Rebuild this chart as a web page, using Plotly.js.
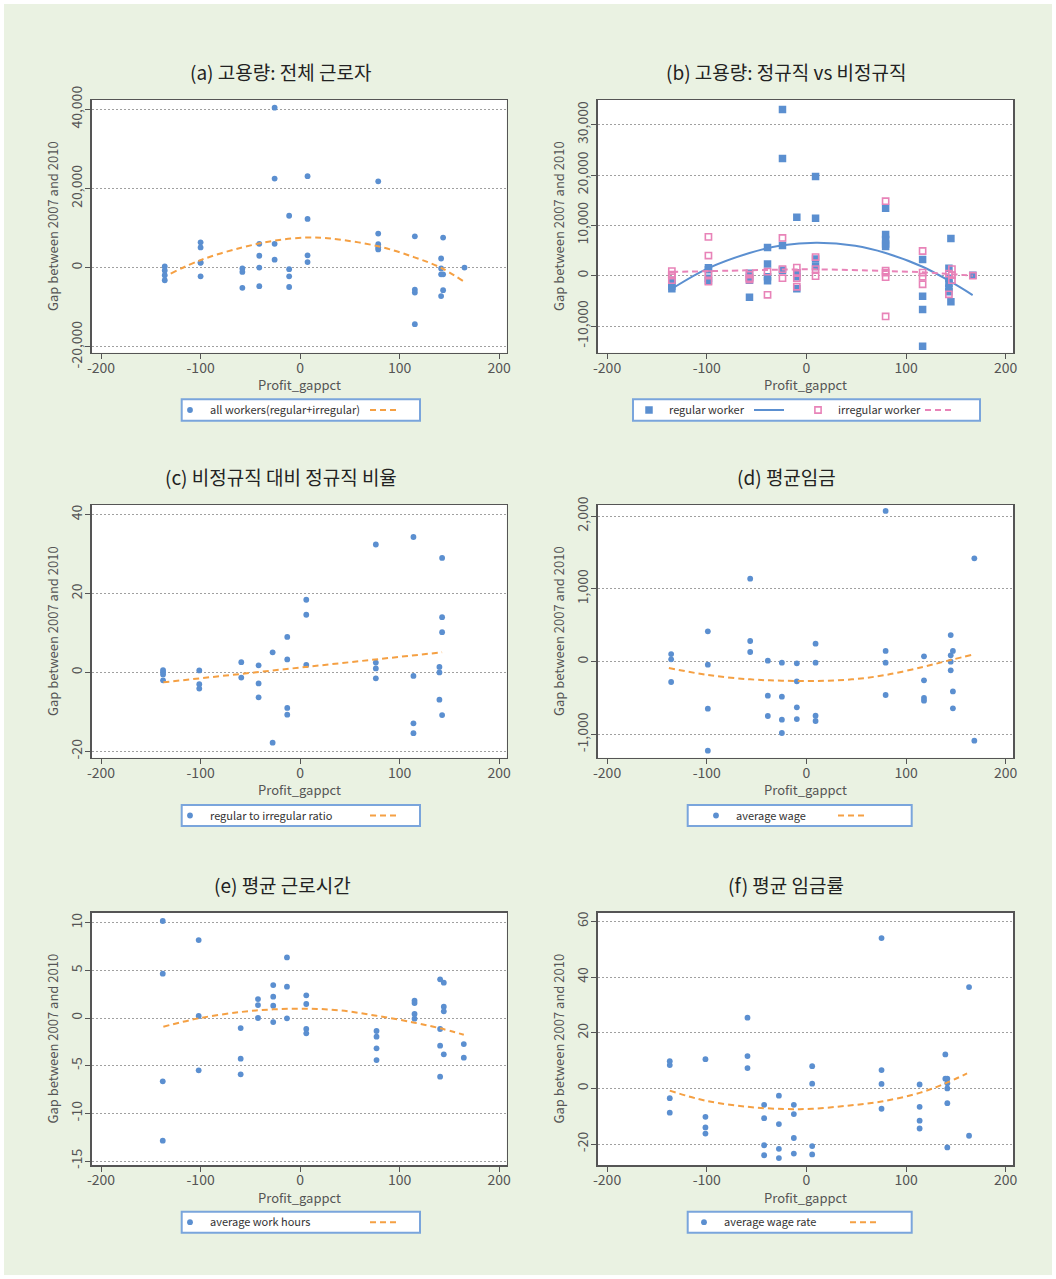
<!DOCTYPE html>
<html><head><meta charset="utf-8">
<script src="https://cdn.plot.ly/plotly-3.0.1.min.js"></script>
<style>html,body{margin:0;padding:0;background:#fff}</style>
</head><body><div id="chart" style="width:1056px;height:1279px"></div>
<script>
// ---------------- DATA ----------------
const xTicks = [-200, -100, 0, 100, 200];
const xTickText = ['-200', '-100', '0', '100', '200'];

// (a) all workers
const aX = [-136,-136,-136,-136, -100,-100,-100,-100,-100, -58,-58,-58, -41,-41,-41,-41, -25.6,-25.6,-25.6,-25.6, -11,-11,-11,-11, 7.5,7.5,7.5,7.5, 78.5,78.5,78.5,78.5,78.5, 115.3,115.3,115.3,115.3, 141.7,141.7,141.7,141.7, 143.7,143.7,143.7, 165.2];
const aY = [300,-700,-1900,-3200, 6400,5100,1300,1200,-2200, -200,-1100,-5100, 6000,3000,0,-4700, 40400,22500,6000,2000, 13100,-400,-2200,-4900, 23100,12300,3100,1400, 21800,8600,5900,5100,4600, 7900,-5600,-6300,-14300, 2300,-200,-1700,-7200, 7600,-1700,-5700, 0];
const aFitX = [-130, -100, -58, -25.6, 7.5, 32, 78.5, 115, 142, 165];
const aFitY = [-1500, 1900, 5100, 6800, 7600, 7300, 5400, 2600, -100, -3600];
const aTicks = [-20000, 0, 20000, 40000];
const aTickText = ['-20,000', '0', '20,000', '40,000'];

// (b) regular vs irregular
const bRegX = [-135,-135,-135,-135, -98.3,-98.3,-98.3,-98.3, -57.1,-57.1,-57.1,-57.1, -39,-39,-39,-39, -24,-24,-24,-24, -9.6,-9.6,-9.6,-9.6, 9.2,9.2,9.2,9.2, 79.5,79.5,79.5,79.5,79.5, 116.6,116.6,116.6,116.6, 143,143,143,143,143, 145,145, 167];
const bRegY = [-900,-1500,-2100,-2600, 1600,1200,-500,-1000, 500,-300,-900,-4300, 5600,2300,-200,-1000, 33000,23300,6000,1100, 11600,600,-200,-2600, 19700,11400,3300,1800, 13400,8200,7200,6300,5800, 3200,-4100,-6700,-14000, 1500,-500,-1500,-2500,-3200, 7400,-5200, 100];
const bIrrX = [-135,-135,-135,-135, -98.3,-98.3,-98.3,-98.3, -57.1,-57.1,-57.1, -39,-39, -24,-24,-24, -9.6,-9.6,-9.6,-9.6, 9.2,9.2,9.2, 79.5,79.5,79.5,79.5,79.5, 116.6,116.6,116.6,116.6, 143,143, 146,146,146, 167];
const bIrrY = [900,200,0,-900, 7700,4000,300,-1200, 200,-500,-800, 800,-3800, 7500,1300,-500, 1600,500,-500,-2200, 3700,1300,-100, 14800,1000,600,-300,-8100, 4900,600,-200,-1700, 400,-3700, 1300,100,-900, 0];
const bRegFitX = [-133.4, -98.3, -57.1, -24, 11, 49, 79.5, 116.6, 143, 166.8];
const bRegFitY = [-2400, 1500, 4500, 6050, 6550, 5930, 4500, 1780, -1000, -3850];
const bIrrFitX = [-135, -61, 5.5, 79, 117, 143, 167];
const bIrrFitY = [730, 1060, 1260, 930, 660, 330, 0];
const bTicks = [-10000, 0, 10000, 20000, 30000];
const bTickText = ['-10,000', '0', '10,000', '20,000', '30,000'];

// (c) regular to irregular ratio
const cX = [-137.7,-137.7,-137.7,-137.7, -101.3,-101.3,-101.3, -59.1,-59.1, -41.7,-41.7,-41.7, -27.6,-27.6, -12.9,-12.9,-12.9,-12.9, 6.2,6.2,6.2, 76.1,76.1,76.1,76.1, 113.9,113.9,113.9,113.9, 140,140,140, 142.7,142.7,142.7,142.7];
const cY = [0.6,0.1,-0.5,-2.0, 0.5,-3.0,-4.1, 2.6,-1.3, 1.8,-2.8,-6.3, 5.1,-17.8, 9.0,3.3,-9.0,-10.7, 18.4,14.6,1.9, 32.4,2.5,1.0,-1.5, 34.3,-0.9,-12.9,-15.4, 1.4,0,-6.9, 29.0,14.0,10.2,-10.8];
const cFitX = [-137.4, 142.7];
const cFitY = [-2.5, 5.1];
const cTicks = [-20, 0, 20, 40];
const cTickText = ['-20', '0', '20', '40'];

// (d) average wage
const dX = [-135.7,-135.7,-135.7, -98.9,-98.9,-98.9,-98.9, -56.4,-56.4,-56.4, -38.7,-38.7,-38.7, -24.6,-24.6,-24.6,-24.6, -9.6,-9.6,-9.6,-9.6, 9.2,9.2,9.2,9.2, 79.5,79.5,79.5,79.5, 118,118,118,118, 144.8,144.8,144.8,144.8, 147,147,147, 168.5,168.5];
const dY = [105,32,-279, 417,-41,-646,-1223, 1140,284,133, 14,-467,-746, -14,-481,-797,-980, -23,-270,-627,-788, 247,-14,-742,-815, 2070,147,-14,-458, 73,-256,-499,-536, 366,87,0,-119, 147,-408,-641, 1420,-1085];
const dFitX = [-138, -98.9, -56.4, -24.6, 9.2, 45.6, 79.5, 118, 144.8, 167];
const dFitY = [-87, -183, -243, -261, -266, -243, -183, -69, 23, 96];
const dTicks = [-1000, 0, 1000, 2000];
const dTickText = ['-1,000', '0', '1,000', '2,000'];

// (e) average work hours
const eX = [-138,-138,-138,-138, -101.9,-101.9,-101.9, -59.7,-59.7,-59.7, -42.3,-42.3,-42.3, -27,-27,-27,-27, -13.2,-13.2,-13.2, 6.2,6.2,6.2,6.2, 76.8,76.8,76.8,76.8, 115,115,115,115, 140.7,140.7,140.7,140.7, 144.4,144.4,144.4,144.4, 164.5,164.5];
const eY = [10.18,4.65,-6.64,-12.87, 8.18,0.21,-5.49, -1.05,-4.27,-5.91, 1.99,1.36,0, 3.46,2.24,1.29,-0.42, 6.36,3.29,-0.03, 2.38,1.47,-1.15,-1.61, -1.36,-1.96,-3.18,-4.41, 1.82,1.57,0.42,-0.07, 4.06,-1.15,-2.90,-6.15, 3.71,1.19,0.70,-3.81, -2.73,-4.16];
const eFitX = [-137.4, -101.9, -59.7, -27, 6.5, 40, 76.8, 115, 140.7, 164.5];
const eFitY = [-0.91, -0.03, 0.63, 0.91, 0.98, 0.80, 0.24, -0.49, -1.08, -1.75];
const eTicks = [-15, -10, -5, 0, 5, 10];
const eTickText = ['-15', '-10', '-5', '0', '5', '10'];

// (f) average wage rate
const fX = [-137.1,-137.1,-137.1,-137.1, -101.3,-101.3,-101.3,-101.3, -59.1,-59.1,-59.1, -42.4,-42.4,-42.4,-42.4, -27.6,-27.6,-27.6,-27.6, -12.6,-12.6,-12.6,-12.6, 5.8,5.8,5.8,5.8, 75.4,75.4,75.4,75.4, 113.6,113.6,113.6,113.6, 139.4,139.4, 141.4,141.4,141.4,141.4,141.4, 163.2,163.2];
const fY = [9.8,8.4,-3.5,-8.7, 10.5,-10.2,-14.0,-16.2, 25.4,11.6,7.3, -5.9,-10.7,-20.4,-24.0, -2.6,-12.8,-21.7,-25.0, -5.9,-9.2,-17.8,-23.4, 8.0,1.7,-20.7,-23.7, 54.0,6.6,1.6,-7.3, 1.4,-6.6,-11.6,-14.4, 12.2,3.5, 3.5,1.9,0,-5.3,-21.2, 36.4,-17.0];
const fFitX = [-137.1, -101.3, -59.1, -21.6, 5.8, 38.9, 75.4, 113.6, 139.4, 161.2];
const fFitY = [-0.8, -4.4, -6.6, -7.4, -7.3, -6.3, -4.7, -1.6, 1.8, 5.4];
const fTicks = [-20, 0, 20, 40, 60];
const fTickText = ['-20', '0', '20', '40', '60'];

const titles = ['(a) 고용량: 전체 근로자', '(b) 고용량: 정규직 vs 비정규직', '(c) 비정규직 대비 정규직 비율', '(d) 평균임금', '(e) 평균 근로시간', '(f) 평균 임금률'];
const seriesNames = ['all workers(regular+irregular)', 'regular worker', 'irregular worker', 'regular to irregular ratio', 'average wage', 'average work hours', 'average wage rate'];
const xTitle = 'Profit_gappct';
const yTitle = 'Gap between 2007 and 2010';

// ---------------- STYLE ----------------
const W = 1056, H = 1279;
const FONT = '"Noto Sans CJK KR", "Noto Sans", sans-serif';
const BLUE = '#5b8fd0', ORANGE = '#f5a043', PINK = '#e883b8';
const px = v => v / W, py = v => 1 - v / H;

const colL = [91.7, 506.7], colR = [597.7, 1013.3];
const rows = [[100, 352.7], [505, 757.7], [912.7, 1165]];
const yRanges = [[-21500, 42350], [-15300, 34900], [-21.6, 42.4], [-1319, 2152], [-15.42, 11.05], [-27.5, 63.1]];
const yTickSets = [[aTicks, aTickText], [bTicks, bTickText], [cTicks, cTickText], [dTicks, dTickText], [eTicks, eTickText], [fTicks, fTickText]];

const layout = {
  width: W, height: H,
  margin: {l: 0, r: 0, t: 0, b: 0},
  paper_bgcolor: '#eaf2e2',
  plot_bgcolor: '#ffffff',
  showlegend: true,
  font: {family: FONT, color: '#555'},
  annotations: [],
  shapes: [{type: 'rect', xref: 'paper', yref: 'paper', x0: 0, x1: 1, y0: 0, y1: 1,
            line: {color: '#ffffff', width: 8}, fillcolor: 'rgba(0,0,0,0)', layer: 'below'}]
};

// legend boxes: [left, right, top, bottom]; legend start (first marker - 20)
const legendBoxes = [[181.7, 420, 399.3, 420.7], [633, 980, 399.3, 420.7], [181.7, 420, 805, 826], [687.7, 911.7, 805, 826], [181.7, 420, 1211.7, 1232.7], [687.7, 911.7, 1211.7, 1232.7]];
const legendStart = [170, 629, 170, 696, 170, 684];
const titleX = [280, 786, 281, 786, 282, 786];
const titleY = [72, 72, 477, 477, 884, 884];

for (let i = 0; i < 6; i++) {
  const n = i === 0 ? '' : String(i + 1);
  const col = i % 2 === 0 ? colL : colR;
  const row = rows[Math.floor(i / 2)];
  layout['xaxis' + n] = {
    domain: [px(col[0]), px(col[1])], range: [-209.4, 207.6], anchor: 'y' + n,
    tickvals: xTicks, ticktext: xTickText, ticks: 'outside', ticklen: 5, tickcolor: '#555', tickwidth: 1,
    ticklabelstandoff: -3,
    showline: true, mirror: true, linecolor: '#555', linewidth: 1.5,
    showgrid: false, zeroline: false, tickfont: {size: 14, color: '#555', family: FONT}
  };
  layout['yaxis' + n] = {
    domain: [py(row[1]), py(row[0])], range: yRanges[i], anchor: 'x' + n,
    tickvals: yTickSets[i][0], ticktext: yTickSets[i][1], tickangle: -90,
    ticks: 'outside', ticklen: 5, tickcolor: '#555', tickwidth: 1, ticklabelstandoff: -2,
    showline: true, mirror: true, linecolor: '#555', linewidth: 1.5,
    showgrid: true, gridcolor: '#a0a0a0', gridwidth: 1, griddash: '2px,2px',
    zeroline: false, tickfont: {size: 14, color: '#555', family: FONT}
  };
  layout.annotations.push({text: titles[i], xref: 'paper', yref: 'paper', x: px(titleX[i]), y: py(titleY[i]),
    xanchor: 'center', yanchor: 'middle', showarrow: false, font: {size: 19, color: '#222', family: FONT}});
  layout.annotations.push({text: xTitle, xref: 'paper', yref: 'paper', x: px((col[0] + col[1]) / 2), y: py(row[1] + 32),
    xanchor: 'center', yanchor: 'middle', showarrow: false, font: {size: 13, color: '#555', family: FONT}});
  layout.annotations.push({text: yTitle, xref: 'paper', yref: 'paper', x: px(col[0] - 39), y: py((row[0] + row[1]) / 2),
    xanchor: 'center', yanchor: 'middle', textangle: -90, showarrow: false, font: {size: 13, color: '#555', family: FONT}});
  const lb = legendBoxes[i];
  layout.shapes.push({type: 'rect', xref: 'paper', yref: 'paper', x0: px(lb[0]), x1: px(lb[1]), y0: py(lb[3]), y1: py(lb[2]),
    line: {color: '#7aa5dc', width: 2}, fillcolor: '#ffffff', layer: 'below'});
  layout[i === 0 ? 'legend' : 'legend' + (i + 1)] = {
    orientation: 'h', x: px(legendStart[i]), xanchor: 'left', y: py((lb[2] + lb[3]) / 2), yanchor: 'middle',
    bgcolor: 'rgba(0,0,0,0)', borderwidth: 0,
    font: {size: 11, color: '#333', family: FONT}, traceorder: 'normal', itemwidth: 30
  };
}

function lg(i) { return i === 0 ? 'legend' : 'legend' + (i + 1); }
function dots(x, y, i, name, lw) {
  const n = i === 0 ? '' : String(i + 1);
  return {type: 'scatter', mode: 'markers', x: x, y: y, name: name, xaxis: 'x' + n, yaxis: 'y' + n,
    legend: lg(i), legendwidth: lw, marker: {color: BLUE, size: 5.8, line: {width: 0}}};
}
function fit(x, y, i, color, dash, lw) {
  const n = i === 0 ? '' : String(i + 1);
  return {type: 'scatter', mode: 'lines', x: x, y: y, name: '\u00a0', xaxis: 'x' + n, yaxis: 'y' + n,
    legend: lg(i), legendwidth: lw || 1,
    line: {color: color, width: 2, dash: dash, shape: 'spline', smoothing: 1}};
}

const DASH = '6px,4px';
const data = [
  dots(aX, aY, 0, seriesNames[0], 150),
  fit(aFitX, aFitY, 0, ORANGE, DASH),
  {type: 'scatter', mode: 'markers', x: bRegX, y: bRegY, name: seriesNames[1], xaxis: 'x2', yaxis: 'y2', legend: 'legend2', legendwidth: 75,
    marker: {color: BLUE, size: 7.5, symbol: 'square', line: {width: 0}}},
  fit(bRegFitX, bRegFitY, 1, BLUE, 'solid', 4),
  {type: 'scatter', mode: 'markers', x: bIrrX, y: bIrrY, name: seriesNames[2], xaxis: 'x2', yaxis: 'y2', legend: 'legend2', legendwidth: 77,
    marker: {color: PINK, size: 6.2, symbol: 'square-open', line: {color: PINK, width: 1.6}}},
  fit(bIrrFitX, bIrrFitY, 1, PINK, DASH),
  dots(cX, cY, 2, seriesNames[3], 150),
  fit(cFitX, cFitY, 2, ORANGE, DASH),
  dots(dX, dY, 3, seriesNames[4], 92),
  fit(dFitX, dFitY, 3, ORANGE, DASH),
  dots(eX, eY, 4, seriesNames[5], 150),
  fit(eFitX, eFitY, 4, ORANGE, DASH),
  dots(fX, fY, 5, seriesNames[6], 116),
  fit(fFitX, fFitY, 5, ORANGE, DASH)
];

Plotly.newPlot('chart', data, layout, {staticPlot: true, displayModeBar: false});
</script></body></html>
